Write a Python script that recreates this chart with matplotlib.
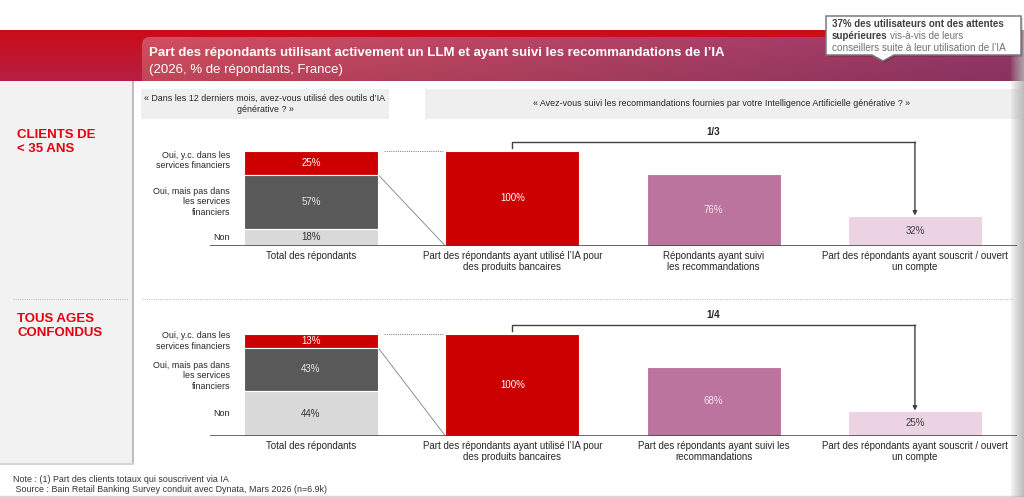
import numpy as np
import matplotlib
matplotlib.use("Agg")
import matplotlib.pyplot as plt
from matplotlib.patches import Rectangle, FancyBboxPatch, Polygon

plt.rcParams['font.family'] = ['Liberation Sans', 'DejaVu Sans']

# ---------------- data ----------------
title = "Part des répondants utilisant activement un LLM et ayant suivi les recommandations de l\u2019IA"
subtitle = "(2026, % de répondants, France)"
question_left = "« Dans les 12 derniers mois, avez-vous utilisé des outils d\u2019IA\ngénérative ? »"
question_right = "« Avez-vous suivi les recommandations fournies par votre Intelligence Artificielle générative ? »"
callout_line1 = "37% des utilisateurs ont des attentes"
callout_line2_bold = "supérieures"
callout_line2_rest = "vis-à-vis de leurs"
callout_line3 = "conseillers suite à leur utilisation de l\u2019IA"

group_titles = ["CLIENTS DE\n< 35 ANS", "TOUS AGES\nCONFONDUS"]
segment_labels = ["Oui, y.c. dans les\nservices financiers",
                  "Oui, mais pas dans\nles services\nfinanciers",
                  "Non"]
# stacked shares, top -> bottom : Oui y.c. / Oui mais pas / Non
young_stack = [25, 57, 18]
all_stack = [13, 43, 44]
# funnel bars
young_funnel = [100, 76, 32]
all_funnel = [100, 68, 25]
young_ratio = "1/3"
all_ratio = "1/4"
young_categories = ["Total des répondants",
                    "Part des répondants ayant utilisé l\u2019IA pour\ndes produits bancaires",
                    "Répondants ayant suivi\nles recommandations",
                    "Part des répondants ayant souscrit / ouvert\nun compte"]
all_categories = ["Total des répondants",
                  "Part des répondants ayant utilisé l\u2019IA pour\ndes produits bancaires",
                  "Part des répondants ayant suivi les\nrecommandations",
                  "Part des répondants ayant souscrit / ouvert\nun compte"]
note_text = "Note : (1) Part des clients totaux qui souscrivent via IA"
source_text = " Source : Bain Retail Banking Survey conduit avec Dynata, Mars 2026 (n=6.9k)"

# ---------------- styles ----------------
seg_colors = ["#cc0000", "#595959", "#d9d9d9"]
seg_text_colors = ["white", "#e6e6e6", "#333333"]
funnel_colors = ["#cc0000", "#bb749e", "#ecd3e3"]
funnel_text_colors = ["white", "#f3e6ee", "#404040"]
red_title = "#e3000f"

W, H = 1024, 497
fig = plt.figure(figsize=(W / 100, H / 100), dpi=100)
bg = fig.add_axes([0, 0, 1, 1])
bg.set_xlim(0, W)
bg.set_ylim(H, 0)
bg.axis('off')

# ---- header banner ----
ny = 60
t = np.linspace(0, 1, ny)[:, None]
top_c = np.array([204, 12, 24]) / 255
bot_c = np.array([182, 32, 70]) / 255
band = (top_c[None, None, :] * (1 - t[..., None]) + bot_c[None, None, :] * t[..., None])
band = np.repeat(band, 4, axis=1)
bg.imshow(band, extent=(0, W, 81, 30), origin='upper', aspect='auto', zorder=1,
          interpolation='bilinear')

nx = 200
u = np.linspace(0, 1, nx)[None, :, None]
v = np.linspace(0, 1, ny)[:, None, None]
left_c = np.array([212, 78, 96]) / 255
right_c = np.array([150, 56, 106]) / 255
head = left_c * (1 - u) + right_c * u
head = head * (1.0 - 0.10 * v)
head = np.clip(head, 0, 1)
im = bg.imshow(head, extent=(142, W, 81, 37), origin='upper', aspect='auto', zorder=2,
               interpolation='bilinear')
clip = FancyBboxPatch((142, 37), 900, 70, boxstyle="round,pad=0,rounding_size=8",
                      transform=bg.transData, fc='none', ec='none')
bg.add_patch(clip)
im.set_clip_path(clip)

bg.text(149, 53, title, color='white', fontsize=9.5, fontweight='bold', va='center', ha='left', zorder=5)
bg.text(149, 70, subtitle, color='white', fontsize=9.5, va='center', ha='left', zorder=5)

# ---- callout ----
pts = [(826, 16), (1021, 16), (1021, 55), (894, 55), (883, 61), (872, 55), (826, 55)]
bg.add_patch(Polygon([(x + 1.5, y + 1.5) for x, y in pts], closed=True, fc='#000000', alpha=0.25,
                     ec='none', zorder=6))
bg.add_patch(Polygon(pts, closed=True, fc='white', ec='#7a7a7a', lw=1.1, zorder=7))
bg.text(832, 24, callout_line1, fontsize=7, fontweight='bold', color='#404040', va='center', zorder=8)
t2 = bg.text(832, 36, callout_line2_bold, fontsize=7, fontweight='bold', color='#404040',
             va='center', zorder=8)
bg.annotate(callout_line2_rest, xy=(1, 0.5), xycoords=t2, xytext=(2, 0), textcoords='offset points',
            fontsize=7, color='#707070', va='center', ha='left', zorder=8)
bg.text(832, 48, callout_line3, fontsize=7.2, color='#707070', va='center', zorder=8)

# ---- left panel ----
bg.add_patch(Rectangle((0, 81), 132, 382, fc='#f2f2f2', ec='none', zorder=1))
bg.add_patch(Rectangle((132, 81), 2.2, 384, fc='#bdbdbd', ec='none', zorder=1))
bg.add_patch(Rectangle((0, 463), 134, 2, fc='#d4d4d4', ec='none', zorder=1))
bg.text(17, 129, group_titles[0], color=red_title, fontsize=9.5, fontweight='bold',
        va='top', ha='left', linespacing=1.2, zorder=3)
bg.text(17, 313, group_titles[1], color=red_title, fontsize=9.5, fontweight='bold',
        va='top', ha='left', linespacing=1.2, zorder=3)

# separators
bg.plot([13, 128], [299, 299], ls=(0, (1, 1)), color='#c4c4c4', lw=0.8, zorder=2)
bg.plot([142, 1012], [299, 299], ls=(0, (1, 1)), color='#c4c4c4', lw=0.8, zorder=2)

# ---- question boxes ----
bg.add_patch(Rectangle((141, 89), 248, 30, fc='#efefef', ec='none', zorder=1))
bg.add_patch(Rectangle((425, 89), 596, 30, fc='#efefef', ec='none', zorder=1))
bg.text(265, 104, question_left, fontsize=6.4, color='#262626', ha='center', va='center',
        linespacing=1.2, zorder=3)
bg.text(722, 104, question_right, fontsize=6.4, color='#262626', ha='center', va='center', zorder=3)

# ---- right edge shadow strip ----
grad = np.zeros((2, 40, 4))
grad[..., :3] = 0.70
grad[..., 3] = np.linspace(0, 0.85, 40)[None, :] ** 0.8
bg.imshow(grad, extent=(1010, W, 497, 30), origin='upper', aspect='auto', zorder=4,
          interpolation='bilinear')
bg.plot([0, W], [495.5, 495.5], color='#d8d8d8', lw=1, zorder=3)

# ---- notes ----
bg.text(13, 479, note_text, fontsize=6.4, color='#333333', va='center', ha='left')
bg.text(13, 489, source_text, fontsize=6.4, color='#333333', va='center', ha='left')


# ---- chart sections ----
def section(baseline_px, px_per100, stack, funnel, ratio, cats, label_shift):
    x0, x1 = 210, 1017
    ax = fig.add_axes([x0 / W, 1 - baseline_px / H, (x1 - x0) / W, px_per100 / H])
    ax.set_xlim(-0.502, 3.507)
    ax.set_ylim(0, 100)
    ax.patch.set_alpha(0)
    for s in ax.spines.values():
        s.set_visible(False)
    ax.set_xticks([])
    ax.set_yticks([])
    bw = 0.665

    # stacked bar
    bottoms = [stack[2] + stack[1], stack[2], 0]
    for val, b, c, tc, lab, sh in zip(stack, bottoms, seg_colors, seg_text_colors,
                                      segment_labels, label_shift):
        ax.bar(0, val, bottom=b, width=bw, color=c, edgecolor='white', linewidth=0.8, zorder=3)
        ax.text(0, b + val / 2, f"{val}%", ha='center', va='center', fontsize=7, color=tc, zorder=4)
        ax.annotate(lab, xy=(-bw / 2, b + val / 2), xytext=(-10, sh), textcoords='offset points',
                    ha='right', va='center', fontsize=6.4, color='#262626', linespacing=1.2,
                    annotation_clip=False)

    # funnel bars
    for i, (val, c, tc) in enumerate(zip(funnel, funnel_colors, funnel_text_colors)):
        ax.bar(i + 1, val, width=bw, color=c, edgecolor='white', linewidth=0.8, zorder=3)
        ax.text(i + 1, val / 2, f"{val}%", ha='center', va='center', fontsize=7, color=tc, zorder=4)

    # connectors
    ax.plot([bw / 2 + 0.03, 1 - bw / 2 - 0.01], [100, 100], ls=(0, (1, 1)), color='#8c8c8c',
            lw=0.8, clip_on=False, zorder=2)
    ax.plot([bw / 2, 1 - bw / 2], [100 - stack[0], 0], color='#7f7f7f', lw=0.6, zorder=2)

    # bracket
    yb = 109
    ax.plot([1, 1, 3], [103, yb, yb], color='#404040', lw=1, clip_on=False, zorder=3,
            solid_joinstyle='miter')
    ax.annotate('', xy=(3, funnel[2]), xytext=(3, yb),
                arrowprops=dict(arrowstyle='-|>', color='#404040', lw=1, mutation_scale=6,
                                shrinkA=0, shrinkB=0), annotation_clip=False, zorder=3)
    ax.annotate(ratio, xy=(2, yb), xytext=(0, 7.5), textcoords='offset points', ha='center',
                va='center', fontsize=7, fontweight='bold', color='#262626', annotation_clip=False)

    # baseline
    ax.axhline(0, color='#404040', lw=1.1, zorder=5)

    # category labels
    for i, lab in enumerate(cats):
        ax.annotate(lab, xy=(i, 0), xytext=(0, -3.5), textcoords='offset points', ha='center',
                    va='top', fontsize=7, color='#262626', linespacing=1.1, annotation_clip=False)
    return ax


section(246, 95.3, young_stack, young_funnel, young_ratio, young_categories, [1.5, 0, 0])
section(436, 101.7, all_stack, all_funnel, all_ratio, all_categories, [0, -4.5, 0])

fig.savefig("out.png", dpi=100)
